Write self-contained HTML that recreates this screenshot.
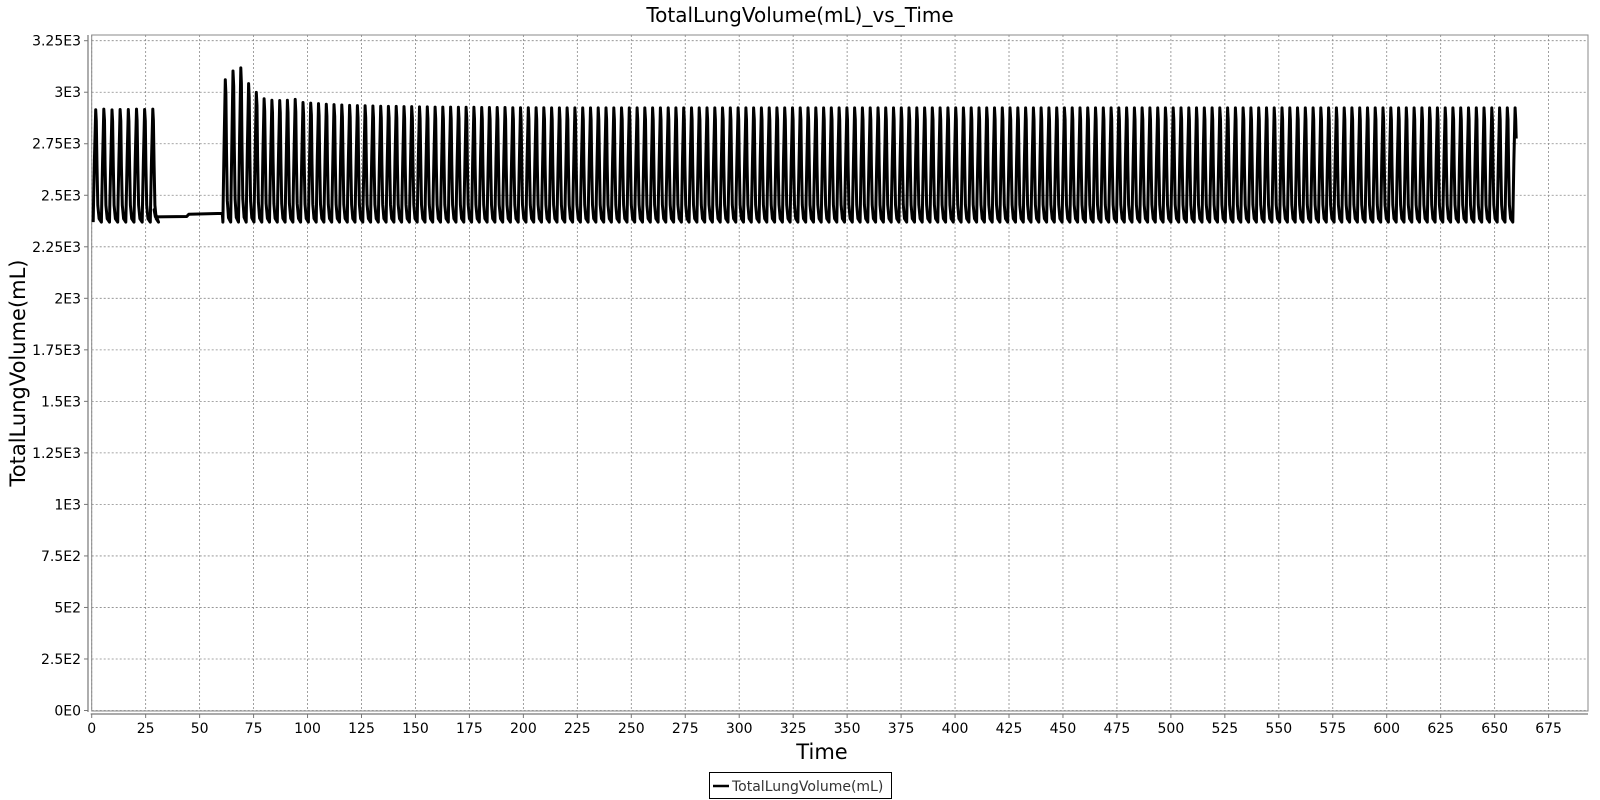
<!DOCTYPE html>
<html><head><meta charset="utf-8"><style>
body{margin:0;background:#fff;}
svg{display:block;font-family:"DejaVu Sans","Liberation Sans",sans-serif;}
</style></head><body>
<svg id="chart" width="1600" height="800">
<text x="800" y="22" text-anchor="middle" font-size="20">TotalLungVolume(mL)_vs_Time</text>
<g id="grid"></g>
<g id="axes"></g>
<g id="series"></g>
<text x="822" y="759" text-anchor="middle" font-size="21">Time</text>
<text transform="translate(25,373) rotate(-90)" text-anchor="middle" font-size="21">TotalLungVolume(mL)</text>
<g>
<rect x="709.5" y="772.5" width="182" height="26" fill="#fff" stroke="#000" stroke-width="1"/>
<line x1="713" y1="786" x2="729" y2="786" stroke="#000" stroke-width="2.5"/>
<text x="732" y="791" font-size="14" fill="#333">TotalLungVolume(mL)</text>
</g>
</svg>
<script>
const xTicks=[0,25,50,75,100,125,150,175,200,225,250,275,300,325,350,375,400,425,450,475,500,525,550,575,600,625,650,675];
const yTicks=[0,250,500,750,1000,1250,1500,1750,2000,2250,2500,2750,3000,3250];
const yTickLabels=["0E0","2.5E2","5E2","7.5E2","1E3","1.25E3","1.5E3","1.75E3","2E3","2.25E3","2.5E3","2.75E3","3E3","3.25E3"];
const baseVolume=2370;
const phase1Start=2.0-1.3, phase1Period=3.78;
const phase1Peaks=[2915,2918,2914,2916,2916,2918,2916,2918];
const plateauTimes=[29.5,44,45,60.5];
const plateauValues=[2395,2397,2408,2412];
const phase2Start=60.8, phase2Period=3.6, phase2End=660;
const phase2Peaks=[3061,3103,3118,3042,2999,2968,2961,2960,2961,2965,2950,2947,2945,2942,2940,2938,2936,2935,2934,2933,
2932,2931,2931,2930,2930,2929,2929,2928,2928,2928,2927,2927,2927,2926,2926,2926,2926,2925,2925,2925,
2925,2925,2924,2924,2924,2924,2924,2924,2924,2924,2924,2924,2924,2924,2924,2924,2924,2924,2924,2924,
2924,2924,2924,2924,2924,2924,2924,2924,2924,2924,2924,2924,2924,2924,2924,2924,2924,2924,2924,2924,
2924,2924,2924,2924,2924,2924,2924,2924,2924,2924,2924,2924,2924,2924,2924,2924,2924,2924,2924,2924,
2924,2924,2924,2924,2924,2924,2924,2924,2924,2924,2924,2924,2924,2924,2924,2924,2924,2924,2924,2924,
2924,2924,2924,2924,2924,2924,2924,2924,2924,2924,2924,2924,2924,2924,2924,2924,2924,2924,2924,2924,
2924,2924,2924,2924,2924,2924,2924,2924,2924,2924,2924,2924,2924,2924,2924,2924,2924,2924,2924,2924,
2924,2924,2924,2924,2924,2924,2924,2924,2924,2924];
const finalValue=2775;
// breath shape template (fractions), not data
const shapeT=[0,0.05,0.15,0.3,0.38,0.46,0.56,0.72,1];
const shapeL=[0,0.2,0.55,1,0.9,0.5,0.15,0.03,0];

const L=91.7,R=1588,T=35,B=711;
const X=t=>L+t*(1456.9/675);
const Y=v=>710.5-v*(669.8/3250);
const NS='http://www.w3.org/2000/svg';
function mk(tag,attrs,parent){const e=document.createElementNS(NS,tag);for(const k in attrs)e.setAttribute(k,attrs[k]);parent.appendChild(e);return e;}
const grid=document.getElementById('grid'),axes=document.getElementById('axes'),series=document.getElementById('series');
mk('rect',{x:L,y:T,width:R-L,height:B-T,fill:'#fff',stroke:'#888','stroke-width':1},grid);
xTicks.forEach(t=>{
  const gl=mk('line',{x1:X(t),x2:X(t),y1:T,y2:B,stroke:'#888','stroke-width':0.8,'stroke-dasharray':'2,2'},grid);
  
  
  mk('line',{x1:X(t),x2:X(t),y1:714,y2:718,stroke:'#777'},axes);
  const tx=mk('text',{x:X(t),y:733,'text-anchor':'middle','font-size':14},axes);
  tx.textContent=t;
  
  
});
yTicks.forEach((v,i)=>{
  const gl=mk('line',{x1:L,x2:R,y1:Y(v),y2:Y(v),stroke:'#888','stroke-width':0.8,'stroke-dasharray':'2,2'},grid);
  
  
  mk('line',{x1:84,x2:88,y1:Y(v),y2:Y(v),stroke:'#777'},axes);
  const tx=mk('text',{x:81,y:Y(v)+5,'text-anchor':'end','font-size':14},axes);
  tx.textContent=yTickLabels[i];
  
  
});
mk('line',{x1:88,x2:88,y1:T,y2:B+1,stroke:'#777','stroke-width':1.2},axes);
mk('line',{x1:L-1,x2:R,y1:714,y2:714,stroke:'#777','stroke-width':1.2},axes);

let pts=[];
function breath(t0,per,peak,tEnd){
  for(let k=0;k<shapeT.length;k++){
    const t=t0+shapeT[k]*per;
    if(tEnd!==undefined&&t>tEnd)return false;
    pts.push([t,baseVolume+shapeL[k]*(peak-baseVolume)]);
  }
  return true;
}
phase1Peaks.forEach((p,i)=>breath(phase1Start+i*phase1Period,phase1Period,p));
pts.push([plateauTimes[0]-0.6,baseVolume+60]);
plateauTimes.forEach((t,i)=>pts.push([t,plateauValues[i]]));
for(let i=0;i<phase2Peaks.length;i++){
  const t0=phase2Start+i*phase2Period;
  if(t0>phase2End)break;
  if(!breath(t0,phase2Period,phase2Peaks[i],phase2End)){pts.push([phase2End,finalValue]);break;}
}
const pl=mk('polyline',{points:pts.map(p=>X(p[0]).toFixed(1)+','+Y(p[1]).toFixed(1)).join(' '),fill:'none',stroke:'#000','stroke-width':3,'stroke-linejoin':'round'},series);


</script>
</body></html>
